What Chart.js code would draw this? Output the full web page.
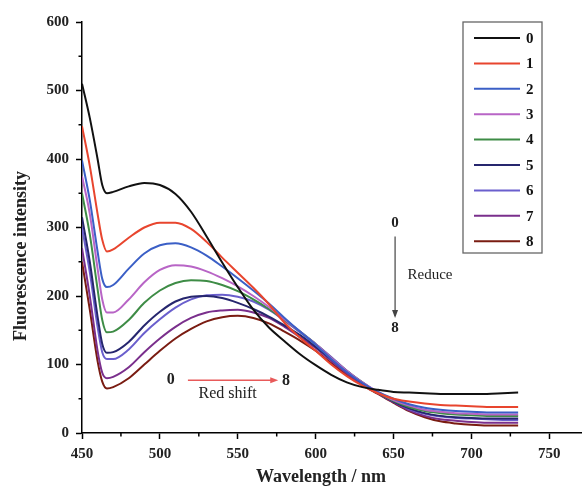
<!DOCTYPE html>
<html><head><meta charset="utf-8">
<script src="https://cdn.jsdelivr.net/npm/chart.js@4"></script>
<style>html,body{margin:0;padding:0;background:#fff}#wrap{width:582px;height:487px}</style>
</head><body><div id="wrap"><canvas id="c" width="582" height="487"></canvas></div>
<script>
const wavelengths = [450,455,460,463,466,470,480,490,500,510,520,530,540,550,560,570,580,590,600,610,620,630,640,650,660,670,680,690,700,710,720,730];
const seriesLabels = ['0','1','2','3','4','5','6','7','8'];
const s0 = [510,460,400,362,350,352,360,365,362,349,323,287,249,213,180,154,134,115,99,85,74,67,63,60,59,58,57,57,57,57,58,59];
const s1 = [448,390,320,282,265,268,285,300,307,307,298,279,256,234,212,188,161,139,120,100,83,69,58,50,46,43,41,40,39,38,38,38];
const s2 = [398,340,265,225,213,216,240,262,274,277,271,259,243,226,208,189,168,148,129,108,89,73,60,50,42,37,34,32,31,30,30,30];
const s3 = [375,320,240,195,176,176,195,220,238,245,243,236,226,214,200,184,166,148,130,110,91,74,60,48,40,34,31,29,28,27,27,27];
const s4 = [350,290,210,165,147,148,165,190,208,219,223,222,216,207,195,181,165,148,130,110,91,74,59,47,38,32,29,27,26,25,25,25];
const s5 = [315,250,170,130,117,118,133,157,177,192,199,200,197,190,181,170,157,143,126,108,90,73,59,46,36,29,25,23,22,21,21,21];
const s6 = [300,235,155,118,108,108,122,146,166,183,195,201,202,199,192,180,164,147,130,111,91,74,59,46,35,28,24,22,21,20,19,19];
const s7 = [270,200,120,88,80,82,96,118,138,155,168,176,179,180,176,168,155,140,124,105,87,71,58,45,33,25,20,18,16,15,15,15];
const s8 = [250,180,105,75,65,67,80,100,120,138,152,163,169,171,168,160,148,135,120,102,85,70,57,44,32,23,17,14,12,11,11,11];
const seriesValues = [s0,s1,s2,s3,s4,s5,s6,s7,s8];
const seriesColors = ['#111111','#e8452e','#3b5fc6','#b865c6','#3e8c46','#26266e','#6a5fcd','#7a2f8c','#7a1c12'];
const xTicks = [450,500,550,600,650,700,750];
const yTicks = [0,100,200,300,400,500,600];
const xMinor = [475,525,575,625,675,725];
const yMinor = [50,150,250,350,450,550];
const xTitle = 'Wavelength / nm';
const yTitle = 'Fluorescence intensity';

const serif = '"Liberation Serif","DejaVu Serif",serif';

const datasets = seriesLabels.map((lab,i)=>({
  label: lab,
  data: wavelengths.map((w,j)=>({x:w,y:seriesValues[i][j]})),
  borderColor: seriesColors[i],
  borderWidth: 2,
  pointRadius: 0,
  cubicInterpolationMode: 'monotone',
  fill: false
}));

const extras = {
  id: 'extras',
  afterDraw(chart){
    const ctx = chart.ctx, xs = chart.scales.x, ys = chart.scales.y;
    const ca = chart.chartArea;
    ctx.save();
    // minor ticks
    ctx.strokeStyle = '#000'; ctx.lineWidth = 1.5;
    xMinor.forEach(v=>{const p=xs.getPixelForValue(v); ctx.beginPath(); ctx.moveTo(p,ca.bottom); ctx.lineTo(p,ca.bottom+3.5); ctx.stroke();});
    yMinor.forEach(v=>{const p=ys.getPixelForValue(v); ctx.beginPath(); ctx.moveTo(ca.left,p); ctx.lineTo(ca.left-3.5,p); ctx.stroke();});
    // axis titles
    ctx.fillStyle='#222'; ctx.font='bold 18px '+serif; ctx.textAlign='center'; ctx.textBaseline='middle';
    ctx.fillText(xTitle, 321, 477);
    ctx.save(); ctx.translate(21, 256); ctx.rotate(-Math.PI/2); ctx.fillText(yTitle, 0, 0); ctx.restore();
    // legend
    const lx=463, ly=22, lw=79, lh=231;
    ctx.strokeStyle='#666'; ctx.lineWidth=1.3;
    ctx.strokeRect(lx,ly,lw,lh);
    ctx.font = 'bold 15px '+serif; ctx.textBaseline='middle'; ctx.textAlign='left';
    chart.data.datasets.forEach((ds,i)=>{
      const y = 38 + i*25.4;
      ctx.strokeStyle = ds.borderColor; ctx.lineWidth = 2;
      ctx.beginPath(); ctx.moveTo(474,y); ctx.lineTo(520,y); ctx.stroke();
      ctx.fillStyle='#111'; ctx.fillText(ds.label, 526, y+1);
    });
    // Reduce arrow
    ctx.strokeStyle='#444'; ctx.fillStyle='#444'; ctx.lineWidth=1.2;
    const ax = xs.getPixelForValue(651), ay1 = ys.getPixelForValue(287), ay2 = ys.getPixelForValue(168);
    ctx.beginPath(); ctx.moveTo(ax,ay1); ctx.lineTo(ax,ay2-2); ctx.stroke();
    ctx.beginPath(); ctx.moveTo(ax-3,ay2-8); ctx.lineTo(ax+3,ay2-8); ctx.lineTo(ax,ay2); ctx.closePath(); ctx.fill();
    ctx.fillStyle='#222'; ctx.textAlign='center'; ctx.font='bold 15px '+serif;
    ctx.fillText('0', ax, ys.getPixelForValue(307));
    ctx.fillText('8', ax, ys.getPixelForValue(153));
    ctx.textAlign='left'; ctx.font='15px '+serif;
    ctx.fillText('Reduce', xs.getPixelForValue(659), ys.getPixelForValue(231));
    // Red shift arrow
    const ry = ys.getPixelForValue(77);
    const rx1 = xs.getPixelForValue(518), rx2 = xs.getPixelForValue(576);
    ctx.strokeStyle='#e85a5a'; ctx.fillStyle='#e85a5a'; ctx.lineWidth=1.5;
    ctx.beginPath(); ctx.moveTo(rx1,ry); ctx.lineTo(rx2-6,ry); ctx.stroke();
    ctx.beginPath(); ctx.moveTo(rx2-8,ry-3); ctx.lineTo(rx2-8,ry+3); ctx.lineTo(rx2,ry); ctx.closePath(); ctx.fill();
    ctx.fillStyle='#222'; ctx.textAlign='center'; ctx.font='bold 16px '+serif;
    ctx.fillText('0', xs.getPixelForValue(507), ry);
    ctx.fillText('8', xs.getPixelForValue(581), ry+1);
    ctx.font='16px '+serif;
    ctx.fillText('Red shift', xs.getPixelForValue(543.5), ys.getPixelForValue(57));
    ctx.restore();
  }
};

new Chart(document.getElementById('c'), {
  type: 'line',
  data: { datasets },
  options: {
    responsive: false, animation: false, devicePixelRatio: 1,
    layout: { padding: { top: 22, right: 0, left: 0, bottom: 0 } },
    plugins: { legend: { display: false }, tooltip: { enabled: false } },
    scales: {
      x: {
        type: 'linear', position: 'bottom', min: 450, max: 771,
        afterBuildTicks: s => { s.ticks = xTicks.map(v=>({value:v})); },
        afterFit: s => { s.height = 54; },
        border: { color: '#000', width: 1.5 },
        grid: { drawOnChartArea: false, drawTicks: true, tickLength: 6, tickColor: '#000', tickWidth: 1.5 },
        ticks: { color: '#222', font: { family: serif, size: 15, weight: 'bold' }, padding: 6, maxRotation: 0 },
        title: { display: false }
      },
      y: {
        type: 'linear', min: 0, max: 600,
        afterBuildTicks: s => { s.ticks = yTicks.map(v=>({value:v})); },
        afterFit: s => { s.width = 82; },
        border: { color: '#000', width: 1.5 },
        grid: { drawOnChartArea: false, drawTicks: true, tickLength: 6, tickColor: '#000', tickWidth: 1.5 },
        ticks: { color: '#222', font: { family: serif, size: 15, weight: 'bold' }, padding: 7 },
        title: { display: false }
      }
    }
  },
  plugins: [extras]
});
</script></body></html>
